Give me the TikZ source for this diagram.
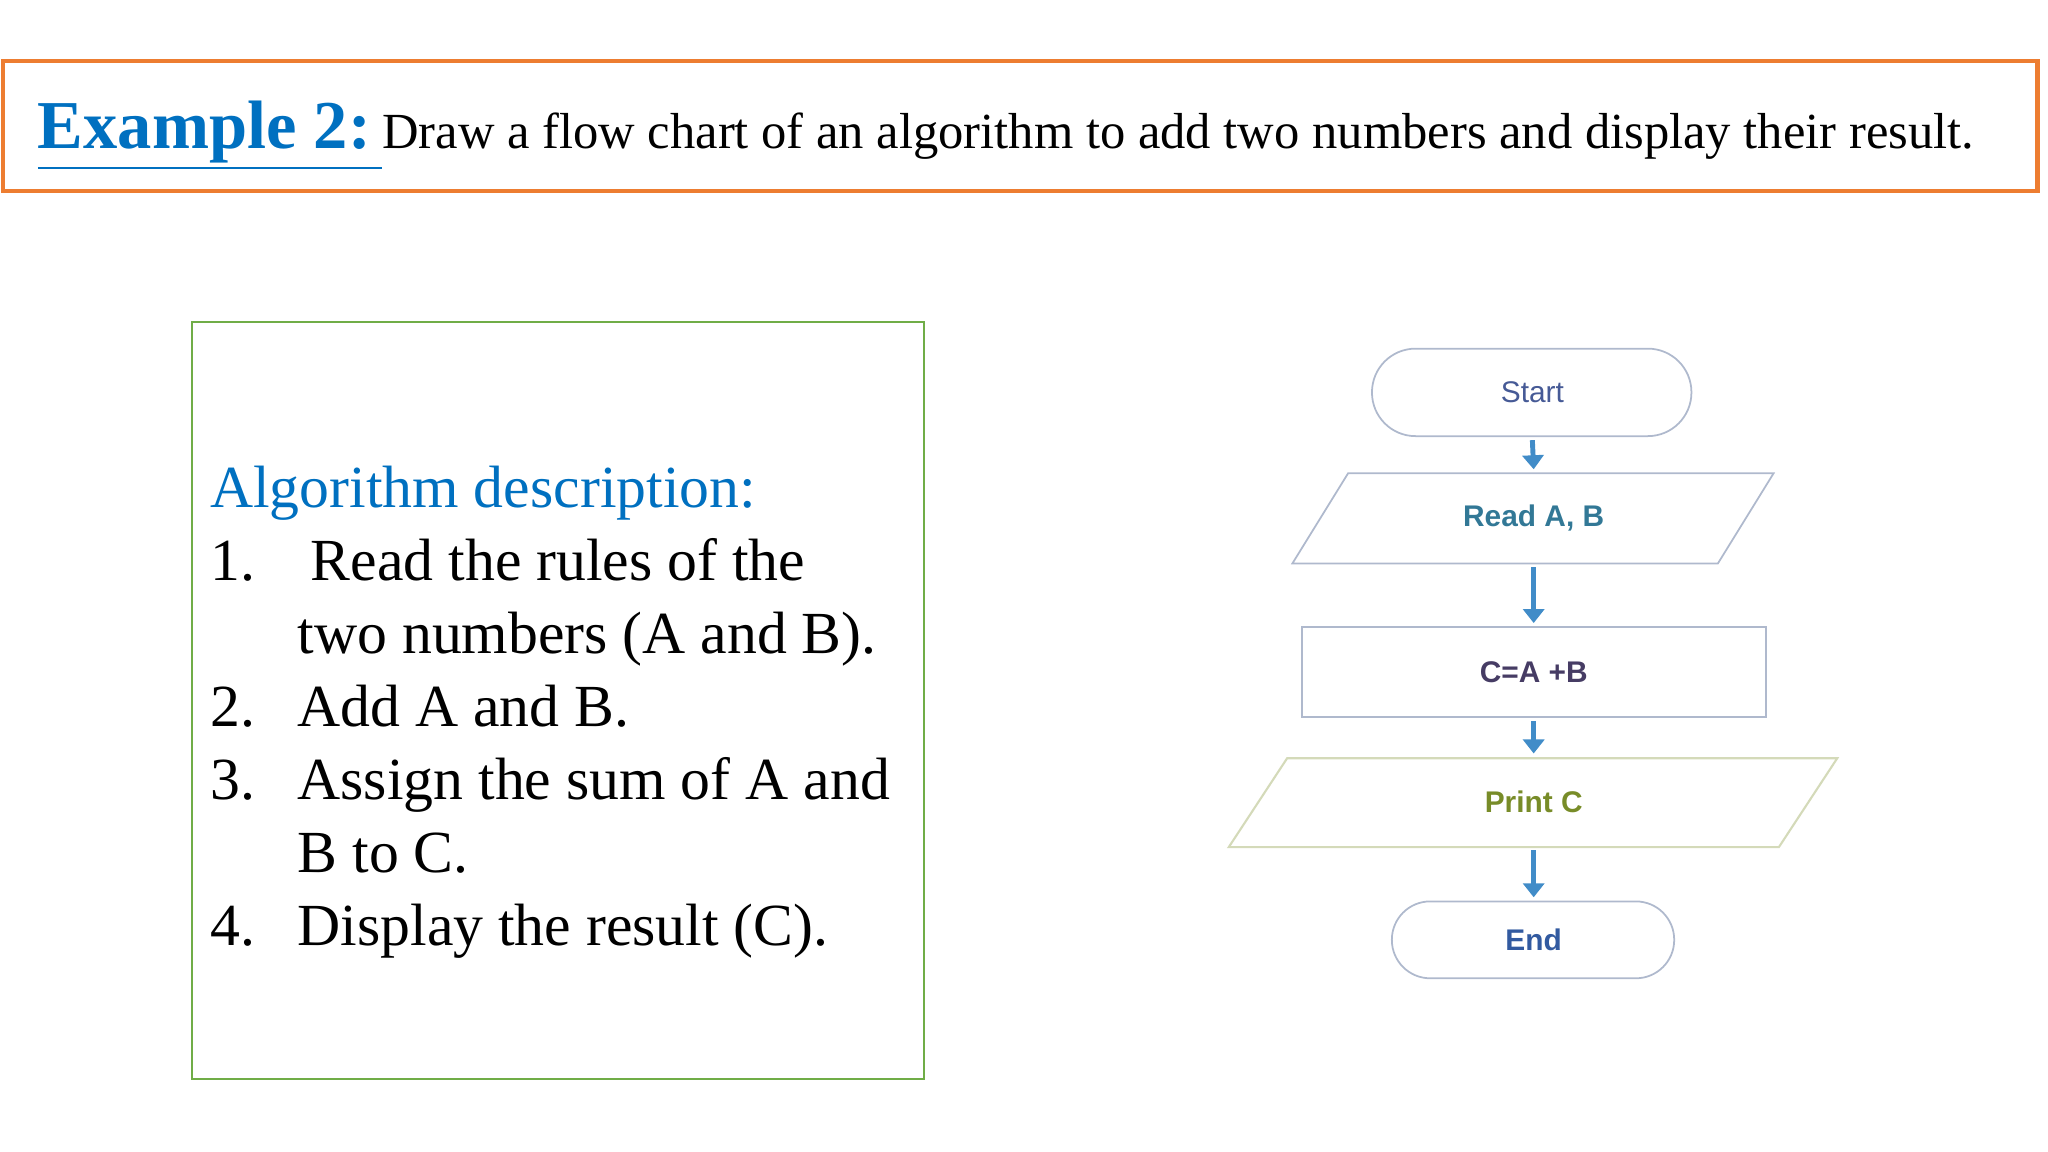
\documentclass[tikz,border=0pt]{standalone}
\usepackage{fontspec}
\setmainfont{Liberation Serif}
\newfontfamily\fcsans{Liberation Sans}
\usetikzlibrary{arrows.meta}
\definecolor{orng}{RGB}{237,125,49}
\definecolor{tblue}{RGB}{0,112,192}
\definecolor{gbox}{RGB}{112,173,71}
\definecolor{fline}{RGB}{175,185,205}
\definecolor{pline}{RGB}{212,218,185}
\definecolor{arr}{RGB}{65,140,200}
\tikzset{
 item/.style={anchor=base west,inner sep=0,font=\fontsize{17}{20}\selectfont},
 fbox/.style={minimum width=30pt,minimum height=#1,inner sep=0,font=\fcsans\fontsize{8.5}{10}\selectfont},
 shp/.style={draw=fline,line width=0.5pt},
 flow/.style={draw=arr,line width=1.4pt,-{Triangle[length=4pt,width=6pt]}}
}
\begin{document}
\begin{tikzpicture}[x=0.013256cm,y=-0.013256cm]
\useasboundingbox (0,0) rectangle (1545,869);
\draw[orng,line width=1.2pt] (2,46) rectangle (1537,144);
\node[anchor=base west,inner sep=0] (title) at (28,112) {\fontsize{19.5}{22}\selectfont\textcolor{tblue}{\bfseries\underline{Example 2:\,}}\fontsize{14.4}{16}\selectfont Draw a flow chart of an algorithm to add two numbers and display their result.};
\draw[gbox,line width=0.6pt] (145,243) rectangle (697,814);
\node[item,text=tblue] (h) at (158,383) {Algorithm description:};
\node[item] (n1) at (158,438) {1.};
\node[item] (t1) at (234,438) {Read the rules of the};
\node[item] (t1b) at (224,493) {two numbers (A and B).};
\node[item] (n2) at (158,548) {2.};
\node[item] (t2) at (224,548) {Add A and B.};
\node[item] (n3) at (158,603) {3.};
\node[item] (t3) at (224,603) {Assign the sum of A and};
\node[item] (t3b) at (224,658) {B to C.};
\node[item] (n4) at (158,713) {4.};
\node[item] (t4) at (224,713) {Display the result (C).};
% shapes
\draw[shp,rounded corners=12.4pt] (1035,263) rectangle (1276,329);
\draw[shp] (1017,357) -- (1338,357) -- (1296,425) -- (975,425) -- cycle;
\draw[shp] (982,473) rectangle (1332,541);
\draw[draw=pline,line width=0.6pt] (971,572) -- (1386,572) -- (1342,639) -- (927,639) -- cycle;
\draw[shp,rounded corners=10.9pt] (1050,680) rectangle (1263,738);
% nodes
\node[fbox=24.8pt,text={rgb,255:red,70;green,90;blue,150}] (start) at (1156,296) {Start};
\node[fbox=25.5pt,text={rgb,255:red,50;green,120;blue,150}] (read) at (1157,391) {\bfseries Read A, B};
\node[fbox=25.5pt,text={rgb,255:red,70;green,60;blue,100}] (calc) at (1157,507) {\bfseries C=A +B};
\node[fbox=25.2pt,text={rgb,255:red,120;green,140;blue,40}] (print) at (1157,605) {\bfseries Print C};
\node[fbox=21.8pt,text={rgb,255:red,50;green,90;blue,160}] (end) at (1157,709) {\bfseries End};
\draw[flow] ([yshift=-1pt]start.south) -- ([yshift=1pt]read.north);
\draw[flow] ([yshift=-1pt]read.south) -- ([yshift=1pt]calc.north);
\draw[flow] ([yshift=-1pt]calc.south) -- ([yshift=1pt]print.north);
\draw[flow] ([yshift=-1pt]print.south) -- ([yshift=1pt]end.north);
\end{tikzpicture}
\end{document}
